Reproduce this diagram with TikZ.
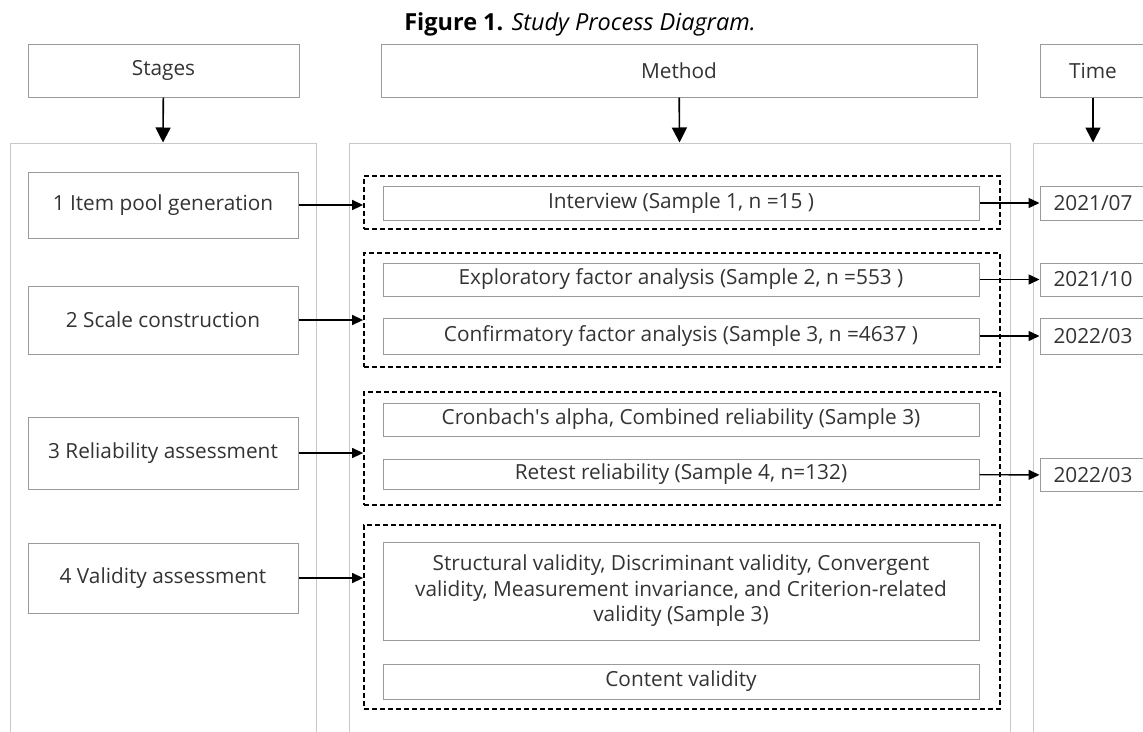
\documentclass[tikz,border=0pt]{standalone}
\usepackage{fontspec}
\setmainfont{Open Sans}
\usetikzlibrary{arrows.meta,positioning,calc}
\definecolor{BoxGray}{HTML}{9A9A9A}
\definecolor{PanelGray}{HTML}{C8C8C8}
\definecolor{TextGray}{HTML}{333333}

\begin{document}
\begin{tikzpicture}[x=1pt,y=-1pt,
  box/.style={draw=BoxGray,line width=1pt,text=TextGray,inner sep=0pt,
    font=\fontsize{20.8}{25.5}\selectfont},
  panel/.style={draw=PanelGray,line width=1pt,inner sep=0pt},
  group/.style={draw=black,line width=1.8pt,dash pattern=on 5pt off 3pt,inner sep=0pt},
  link/.style={-{Triangle[length=11pt,width=10pt]},line width=1.4pt},
  down/.style={-{Triangle[length=15pt,width=15pt]},line width=1.6pt}]
  \useasboundingbox (0,0) rectangle (1143,731);
  \clip (0,0) rectangle (1143,731);

  \node[font=\fontsize{23.5}{28}\selectfont] (title) at (580,24)
    {\textbf{Figure 1.} \textit{Study Process Diagram.}};

  % column heads
  \node[box,minimum width=271pt,minimum height=53pt] (stagesH) at (163.5,70.5) {Stages};
  \node[box,minimum width=596pt,minimum height=53pt] (methodH) at (679,70.5) {Method};
  \node[box,minimum width=106pt,minimum height=53pt] (timeH) at (1093,70.5) {Time};

  % column panels
  \node[panel,minimum width=306pt,minimum height=604pt] (stagesP) at (163,445) {};
  \node[panel,minimum width=661pt,minimum height=604pt] (methodP) at (679.5,445) {};
  \node[panel,minimum width=120pt,minimum height=604pt] (timeP) at (1093,445) {};

  % stages
  \node[box,minimum width=270pt,minimum height=66pt] (s1) at (163,205) {1 Item pool generation};
  \node[box,minimum width=270pt,minimum height=68pt] (s2) at (163,320) {2 Scale construction};
  \node[box,minimum width=270pt,minimum height=72pt] (s3) at (163,453) {3 Reliability assessment};
  \node[box,minimum width=270pt,minimum height=70pt] (s4) at (163,578) {4 Validity assessment};

  % dashed groups
  \node[group,minimum width=636pt,minimum height=53pt] (g1) at (682,202.5) {};
  \node[group,minimum width=636pt,minimum height=114pt] (g2) at (682,310) {};
  \node[group,minimum width=636pt,minimum height=113pt] (g3) at (682,448.5) {};
  \node[group,minimum width=636pt,minimum height=184pt] (g4) at (682,617) {};

  % methods
  \node[box,minimum width=596pt,minimum height=34pt] (m1) at (681,203) {Interview (Sample 1, n =15 )};
  \node[box,minimum width=596pt,minimum height=33pt] (m2) at (681,279.5) {Exploratory factor analysis (Sample 2, n =553 )};
  \node[box,minimum width=596pt,minimum height=36pt] (m3) at (681,336) {Confirmatory factor analysis (Sample 3, n =4637 )};
  \node[box,minimum width=596pt,minimum height=33pt] (m4) at (681,419.5) {Cronbach\textquotesingle s alpha, Combined reliability (Sample 3)};
  \node[box,minimum width=596pt,minimum height=30pt] (m5) at (681,474) {Retest reliability (Sample 4, n=132)};
  \node[box,minimum width=596pt,minimum height=98pt,align=center] (m6) at (681,591)
    {Structural validity, Discriminant validity, Convergent\\
     validity, Measurement invariance, and Criterion-related\\
     validity (Sample 3)};
  \node[box,minimum width=596pt,minimum height=35pt] (m7) at (681,681.5) {Content validity};

  % times
  \node[box,minimum width=106pt,minimum height=34pt] (t1) at (1093,203) {2021/07};
  \node[box,minimum width=106pt,minimum height=33pt] (t2) at (1093,279.5) {2021/10};
  \node[box,minimum width=106pt,minimum height=36pt] (t3) at (1093,336) {2022/03};
  \node[box,minimum width=106pt,minimum height=33pt] (t4) at (1093,475) {2022/03};

  % arrows
  \draw[down] (stagesH) -- (stagesP.north);
  \draw[down] (methodH) -- (methodP.north);
  \draw[down] (timeH) -- (timeP.north);
  \draw[link] (s1.east) -- (s1.east -| g1.west);
  \draw[link] (s2.east) -- (s2.east -| g2.west);
  \draw[link] (s3.east) -- (s3.east -| g3.west);
  \draw[link] (s4.east) -- (s4.east -| g4.west);
  \draw[link] (m1) -- (t1);
  \draw[link] (m2) -- (t2);
  \draw[link] (m3) -- (t3);
  \draw[link] (m5) -- (t4);
\end{tikzpicture}
\end{document}
